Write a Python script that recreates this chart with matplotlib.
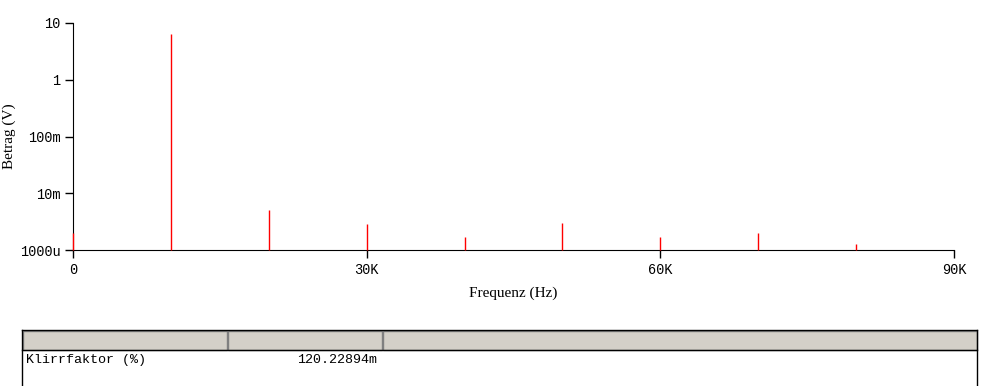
import matplotlib.pyplot as plt
from matplotlib.patches import Rectangle
from matplotlib.lines import Line2D

# spectrum values
freqs = [0, 10000, 20000, 30000, 40000, 50000, 60000, 70000, 80000]
mags = [2.0e-3, 6.4, 5.1e-3, 2.9e-3, 1.7e-3, 3.0e-3, 1.7e-3, 2.0e-3, 1.28e-3]

yticks = [1e-3, 1e-2, 1e-1, 1, 10]
ytick_labels = ['1000u', '10m', '100m', '1', '10']
xticks = [0, 30000, 60000, 90000]
xtick_labels = ['0', '30K', '60K', '90K']

table_label = 'Klirrfaktor (%)'
table_value = '120.22894m'

W, H = 989, 386
fig = plt.figure(figsize=(W / 100, H / 100), dpi=100)

# axes in pixel coordinates: left 73, right 954, top 23, bottom 250
ax = fig.add_axes([73 / W, (H - 250) / H, (954 - 73) / W, (250 - 23) / H])
ax.vlines(freqs, 1e-3, mags, colors='red', linewidth=1, zorder=3,
          clip_on=False)
ax.set_yscale('log')
ax.set_ylim(1e-3, 10)
ax.set_xlim(0, 90000)
ax.set_yticks(yticks)
ax.set_yticklabels(ytick_labels)
ax.set_xticks(xticks)
ax.set_xticklabels(xtick_labels)
ax.minorticks_off()
ax.spines['top'].set_visible(False)
ax.spines['right'].set_visible(False)
ax.tick_params(axis='both', length=6, width=1, labelsize=9.8, pad=3)
for lab in ax.get_xticklabels() + ax.get_yticklabels():
    lab.set_family('Liberation Mono')
ax.set_xlabel('Frequenz (Hz)', family='Liberation Serif', fontsize=11)
ax.set_ylabel('Betrag (V)', family='Liberation Serif', fontsize=11)
ax.xaxis.set_label_coords(0.5, -37 / 227)
ax.yaxis.set_label_coords(-57 / 881, 0.5)

# result table at the bottom
def px(x, y):
    return x / W, (H - y) / H

gray = '#d4d0c8'
cols = [(23, 227), (228, 382), (383, 977)]
for x0, x1 in cols:
    fx, fy = px(x0, 350)
    fig.patches.append(Rectangle((fx, fy), (x1 - x0) / W, 19 / H,
                                 facecolor=gray, edgecolor='#808080',
                                 linewidth=1, transform=fig.transFigure))
# outer border
for (xa, ya), (xb, yb) in [((22, 330), (977, 330)), ((22, 330), (22, 386)),
                           ((977, 330), (977, 386)), ((22, 350), (977, 350))]:
    p0 = px(xa, ya)
    p1 = px(xb, yb)
    fig.lines.append(Line2D([p0[0], p1[0]], [p0[1], p1[1]], color='black',
                            linewidth=1, transform=fig.transFigure))

fig.text(*px(26, 360), table_label, family='Liberation Mono', fontsize=9.6,
         va='center', ha='left')
fig.text(*px(377, 360), table_value, family='Liberation Mono', fontsize=9.6,
         va='center', ha='right')

fig.savefig('out.png', dpi=100)
